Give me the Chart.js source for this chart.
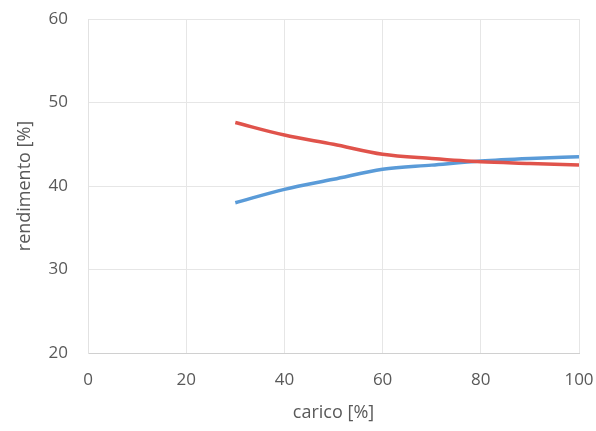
<!DOCTYPE html>
<html>
<head>
<meta charset="utf-8">
<script src="https://cdn.jsdelivr.net/npm/chart.js@4/dist/chart.umd.min.js"></script>
<style>
  html, body { margin: 0; padding: 0; background: #ffffff; }
  #wrap { width: 596px; height: 431px; }
</style>
</head>
<body>
<div id="wrap"><canvas id="c" width="596" height="431"></canvas></div>
<script>
// load levels [%]
const carico = [30, 40, 50, 60, 70, 80, 90, 100];
// efficiency of the two configurations [%]
const rendimentoRosso = [47.6, 46.1, 45.0, 43.8, 43.3, 42.9, 42.7, 42.5];
const rendimentoBlu   = [38.0, 39.6, 40.8, 42.0, 42.5, 43.0, 43.3, 43.5];
// axis ticks
const xTicks = [0, 20, 40, 60, 80, 100];
const yTicks = [20, 30, 40, 50, 60];

const toPoints = (xs, ys) => xs.map((x, i) => ({ x: x, y: ys[i] }));

const textColor = '#595959';
const gridColor = '#e6e6e6';
const fontFamily = "'Open Sans', 'Liberation Sans', sans-serif";

new Chart(document.getElementById('c'), {
  type: 'line',
  data: {
    datasets: [
      {
        label: 'rosso',
        data: toPoints(carico, rendimentoRosso),
        borderColor: '#e0534b',
        borderWidth: 3.5,
        pointRadius: 0,
        cubicInterpolationMode: 'monotone',
        fill: false
      },
      {
        label: 'blu',
        data: toPoints(carico, rendimentoBlu),
        borderColor: '#5a9bd8',
        borderWidth: 3.5,
        pointRadius: 0,
        cubicInterpolationMode: 'monotone',
        fill: false
      }
    ]
  },
  options: {
    responsive: false,
    animation: false,
    layout: { padding: { left: 0, right: 17, top: 19, bottom: 0 } },
    plugins: { legend: { display: false }, tooltip: { enabled: false } },
    scales: {
      x: {
        type: 'linear',
        min: 0,
        max: 100,
        afterBuildTicks: (s) => { s.ticks = xTicks.map(v => ({ value: v })); },
        afterFit: (s) => { s.height = 78; s.paddingLeft = 0; s.paddingRight = 0; },
        grid: { color: gridColor, drawTicks: false },
        border: { color: '#d0d0d0' },
        ticks: { color: textColor, padding: 17, font: { family: fontFamily, size: 17 } },
        title: {
          display: true,
          text: 'carico [%]',
          color: textColor,
          font: { family: fontFamily, size: 18 },
          padding: { top: 0, bottom: 7 }
        }
      },
      y: {
        min: 20,
        max: 60,
        afterBuildTicks: (s) => { s.ticks = yTicks.map(v => ({ value: v })); },
        afterFit: (s) => { s.width = 88; s.paddingTop = 0; s.paddingBottom = 0; },
        grid: { color: gridColor, drawTicks: false },
        border: { color: '#e2e2e2' },
        ticks: { color: textColor, padding: 20, font: { family: fontFamily, size: 17 } },
        title: {
          display: true,
          text: 'rendimento [%]',
          color: textColor,
          font: { family: fontFamily, size: 18 },
          padding: { top: 14, bottom: 0 }
        }
      }
    }
  },
  plugins: [{
    id: 'bg',
    beforeDraw: (chart) => {
      const ctx = chart.ctx;
      ctx.save();
      ctx.fillStyle = '#ffffff';
      ctx.fillRect(0, 0, chart.width, chart.height);
      ctx.restore();
    }
  }]
});
</script>
</body>
</html>
